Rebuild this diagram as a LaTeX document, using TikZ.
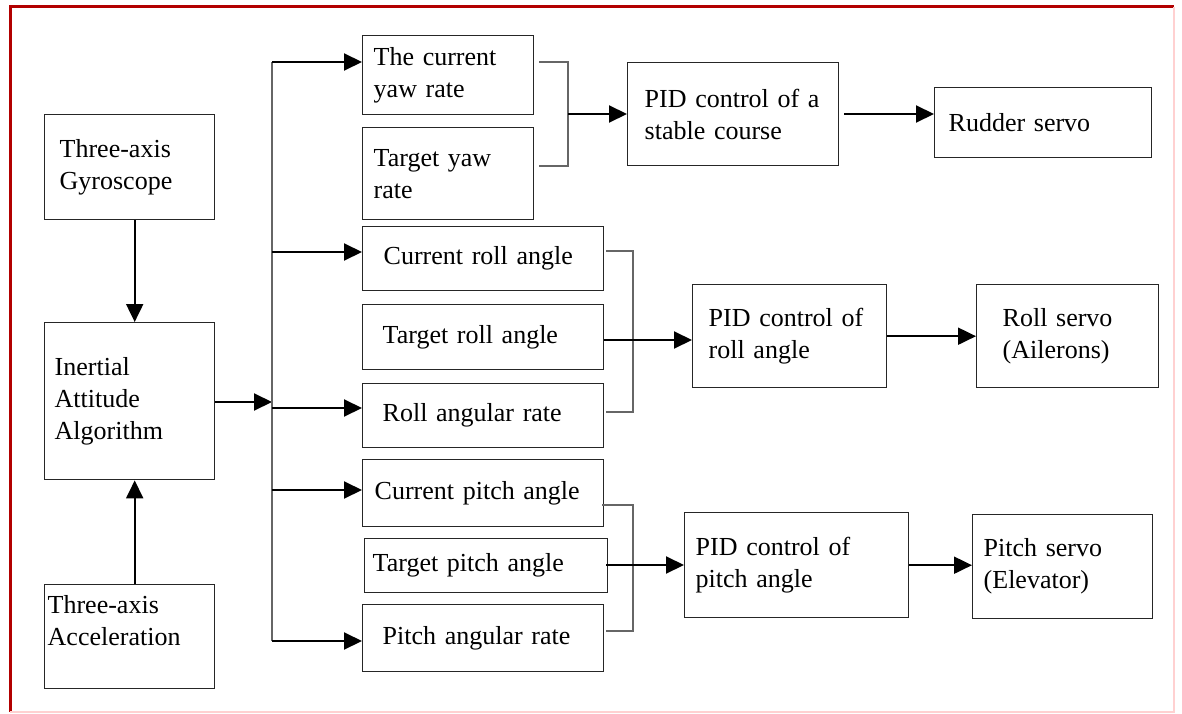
\documentclass[tikz,border=0pt]{standalone}
\usepackage{fontspec}
\setmainfont{Liberation Serif}
\usetikzlibrary{arrows.meta}

\begin{document}
\begin{tikzpicture}[x=1pt, y=-1pt,
    box/.style = {draw=black!85, line width=1.4pt, rectangle, anchor=north west, align=left, inner ysep=0pt, font=\fontsize{26}{32}\selectfont},
    arr/.style = {line width=2pt, -{Triangle[length=18pt, width=17pt]}},
    link/.style = {draw=black!60, line width=1.6pt}]
    \useasboundingbox (0,0) rectangle (1182,714);
    % frame
    \draw[red!70!black, line width=3pt] (10,712) -- (10,7) -- (1174,7);
    \draw[red!18, line width=1.5pt] (10,712) -- (1174,712) -- (1174,7);

    % sensors and attitude
    \node[box, minimum height=105pt, text width=140pt, inner xsep=15pt] (gyro) at (44,114) {Three-axis\\Gyroscope};
    \node[box, minimum height=157pt, text width=150pt, inner xsep=10pt] (inertial) at (44,322) {Inertial\\Attitude\\Algorithm};
    \node[box, minimum height=104pt, text width=164pt, inner xsep=3pt] (accel) at (44,584) {Three-axis\\Acceleration\\\mbox{}};

    % measured and target values
    \node[box, minimum height=79pt, text width=149pt, inner xsep=11pt] (yawcur) at (362,35) {The current\\yaw rate};
    \node[box, minimum height=92pt, text width=149pt, inner xsep=11pt] (yawtgt) at (362,127) {Target yaw\\rate};
    \node[box, minimum height=64pt, text width=199pt, inner xsep=21pt] (rollcur) at (362,226) {Current roll angle};
    \node[box, minimum height=65pt, text width=201pt, inner xsep=20pt] (rolltgt) at (362,304) {Target roll angle};
    \node[box, minimum height=64pt, text width=201pt, inner xsep=20pt] (rollrate) at (362,383) {Roll angular rate};
    \node[box, minimum height=67pt, text width=217pt, inner xsep=12pt] (pitchcur) at (362,459) {Current pitch angle};
    \node[box, minimum height=54pt, text width=227pt, inner xsep=8pt] (pitchtgt) at (364,538) {Target pitch angle};
    \node[box, minimum height=67pt, text width=201pt, inner xsep=20pt] (pitchrate) at (362,604) {Pitch angular rate};

    % controllers and servos
    \node[box, minimum height=103pt, text width=177pt, inner xsep=17pt] (pidyaw) at (627,62) {PID control of a\\stable course};
    \node[box, minimum height=70pt, text width=189pt, inner xsep=14pt] (rudder) at (934,87) {Rudder servo};
    \node[box, minimum height=103pt, text width=162pt, inner xsep=16pt] (pidroll) at (692,284) {PID control of\\roll angle};
    \node[box, minimum height=103pt, text width=130pt, inner xsep=26pt] (rollservo) at (976,284) {Roll servo\\(Ailerons)};
    \node[box, minimum height=105pt, text width=202pt, inner xsep=11pt] (pidpitch) at (684,512) {PID control of\\pitch angle};
    \node[box, minimum height=104pt, text width=158pt, inner xsep=11pt] (pitchservo) at (972,514) {Pitch servo\\(Elevator)};

    % sensor inputs
    \draw[arr] ([xshift=5pt]gyro.south) -- ([xshift=5pt]inertial.north);
    \draw[arr] ([xshift=5pt]accel.north) -- ([xshift=5pt]inertial.south);

    % distribution
    \coordinate (split) at (272,402);
    \draw[arr] (inertial.east |- split) -- (split);
    \draw[link] (272,62) -- (272,641);
    \foreach \y/\n in {62/yawcur, 252/rollcur, 408/rollrate, 490/pitchcur, 641/pitchrate}
        \draw[arr] (272,\y) -- (\n.west |- 0,\y);

    % yaw channel
    \draw[link] ([xshift=5pt]yawcur.east |- 0,62) -| (568,166) -- ([xshift=5pt]yawtgt.east |- 0,166);
    \draw[arr] (568,114) -- (pidyaw.west |- 0,114);
    \draw[arr] ([xshift=5pt]pidyaw.east |- 0,114) -- (rudder.west |- 0,114);

    % roll channel
    \draw[link] ([xshift=2pt]rollcur.east |- 0,251) -| (633,412) -- ([xshift=2pt]rollrate.east |- 0,412);
    \draw[arr] (rolltgt.east |- 0,340) -- (pidroll.west |- 0,340);
    \draw[arr] (pidroll.east) -- (rollservo.west |- pidroll.east);

    % pitch channel
    \draw[link] ([xshift=-2pt]pitchcur.east |- 0,505) -| (633,631) -- ([xshift=2pt]pitchrate.east |- 0,631);
    \draw[arr] ([xshift=-2pt]pitchtgt.east |- 0,565) -- (pidpitch.west |- 0,565);
    \draw[arr] (pidpitch.east) -- (pitchservo.west |- pidpitch.east);
\end{tikzpicture}
\end{document}
